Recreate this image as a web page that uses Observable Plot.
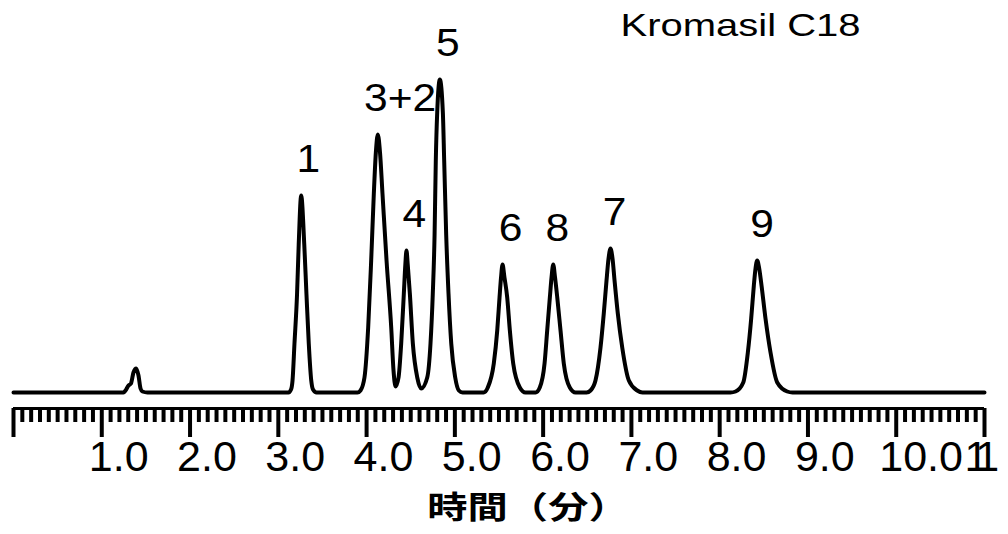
<!DOCTYPE html>
<html>
<head>
<meta charset="utf-8">
<script src="https://cdn.jsdelivr.net/npm/d3@7"></script>
<script src="https://cdn.jsdelivr.net/npm/@observablehq/plot@0.6"></script>
<style>
  body { margin: 0; background: #fff; }
  #chart svg { display: block; }
</style>
</head>
<body>
<div id="chart"></div>
<script>
// Detector trace: retention time (min) and signal (arbitrary units)
const traceTime = [
  0, 1.20, 1.246, 1.269, 1.303, 1.331, 1.359, 1.390, 1.416, 1.439, 1.461, 1.518,
  3.115, 3.144, 3.161, 3.183, 3.212, 3.231, 3.259, 3.294, 3.319, 3.345, 3.373, 3.393, 3.433,
  3.897, 3.931, 3.976, 4.018, 4.052, 4.082, 4.105, 4.127, 4.152, 4.180, 4.226, 4.279, 4.305, 4.328,
  4.362, 4.392, 4.422, 4.439, 4.452, 4.466, 4.490, 4.524, 4.574, 4.619,
  4.687, 4.724, 4.750, 4.770, 4.784, 4.800, 4.830, 4.864, 4.879, 4.902, 4.928, 4.959, 5.004, 5.045, 5.087,
  5.325, 5.373, 5.441, 5.480, 5.506, 5.523, 5.540, 5.562, 5.593, 5.623, 5.661, 5.736, 5.800,
  5.914, 5.962, 6.016, 6.046, 6.076, 6.095, 6.114, 6.135, 6.160, 6.197, 6.234, 6.302, 6.367,
  6.492, 6.537, 6.593, 6.650, 6.687, 6.718, 6.741, 6.763, 6.786, 6.809, 6.846, 6.896, 6.971, 7.066, 7.126,
  8.123, 8.180, 8.267, 8.319, 8.357, 8.387, 8.406, 8.425, 8.448, 8.474, 8.519, 8.576, 8.652, 8.765, 8.825,
  11
];
const traceSignal = [
  0, 0, 0, 2, 7, 9, 20, 24, 17, 4, 1, 0,
  0, 3, 12, 49, 98, 148, 197, 148, 98, 49, 12, 3, 0,
  0, 2, 15, 65, 132, 199, 240, 258, 240, 199, 132, 65, 22, 6,
  15, 49, 99, 128, 142, 128, 99, 49, 15, 4,
  15, 49, 99, 157, 232, 280, 313, 280, 232, 157, 99, 49, 15, 2, 0,
  0, 5, 29, 62, 95, 115, 128, 115, 95, 62, 29, 5, 0,
  0, 5, 29, 62, 95, 115, 128, 115, 95, 62, 29, 5, 0,
  0, 2, 12, 45, 79, 112, 134, 144, 134, 112, 79, 45, 12, 2, 0,
  0, 1, 10, 40, 74, 107, 124, 132, 124, 107, 74, 40, 10, 1, 0,
  0
];

// Peak identification
const peakNames = ["1", "3+2", "4", "5", "6", "8", "7", "9"];
const peakSignals = [197, 258, 142, 313, 128, 128, 144, 132];
const peakLabelTimes = [3.34, 4.38, 4.54, 4.92, 5.63, 6.16, 6.81, 8.48];

// Time axis
const majorTicks = [0, 1, 2, 3, 4, 5, 6, 7, 8, 9, 10, 11];
const majorTickLabels = ["", "1.0", "2.0", "3.0", "4.0", "5.0", "6.0", "7.0", "8.0", "9.0", "10.0", "11"];
const minorTicks = d3.range(1, 110).map(i => i / 10).filter(t => Math.abs(t - Math.round(t)) > 1e-9);

const columnName = "Kromasil C18";
const timeTitle = "時間（分）";

const trace = traceTime.map((t, i) => ({t, s: traceSignal[i]}));
const peaks = peakNames.map((name, i) => ({name, t: peakLabelTimes[i], s: peakSignals[i]}));
const labels = majorTicks.map((t, i) => ({t, label: majorTickLabels[i]})).filter(d => d.label);

const latin = "'Liberation Sans', Arial, sans-serif";

const chart = Plot.plot({
  width: 1008,
  height: 534,
  marginTop: 20,
  marginLeft: 13,
  marginRight: 24,
  marginBottom: 126,
  style: {background: "#fff", color: "#000", fontFamily: latin},
  x: {domain: [0, 11], label: null, axis: null},
  y: {domain: [0, 372], range: [392, 20], axis: null},
  marks: [
    // time axis: line, minor and major ticks, labels
    Plot.ruleY([0], {dy: 16, stroke: "#000", strokeWidth: 3}),
    Plot.axisX(minorTicks, {anchor: "bottom", tickSize: 14, strokeWidth: 4, stroke: "#000", tickFormat: () => "", label: null}),
    Plot.axisX(majorTicks, {anchor: "bottom", tickSize: 29, strokeWidth: 4, stroke: "#000", tickFormat: () => "", label: null}),
    Plot.text(labels, {
      x: "t", text: "label", frameAnchor: "bottom", textAnchor: "start",
      lineAnchor: "top", dx: -13, dy: 32, fontSize: 43, fill: "#000"
    }),
    Plot.text([timeTitle], {
      frameAnchor: "bottom", dx: 29, dy: 87, lineAnchor: "top",
      fontSize: 31, fontWeight: "bold", fill: "#000",
      fontFamily: "'Noto Sans CJK JP', 'Noto Sans CJK SC', sans-serif"
    }),
    // chromatogram
    Plot.line(trace, {x: "t", y: "s", curve: "monotone-x", stroke: "#000", strokeWidth: 4}),
    // peak numbers
    Plot.text(peaks, {
      x: "t", y: "s", text: "name", dy: -24, lineAnchor: "bottom",
      fontSize: 38, fill: "#000"
    }),
    // column name
    Plot.text([columnName], {
      frameAnchor: "top-right", textAnchor: "middle", lineAnchor: "top",
      dx: -244, dy: -7, fontSize: 32, fill: "#000"
    })
  ]
});

// horizontal stretch / spacing of selected lettering
function restyle(match, sx, extra = "", spacing = null) {
  chart.querySelectorAll("text").forEach(t => {
    if (!match(t.textContent)) return;
    const tr = t.getAttribute("transform") || "";
    const x = +t.getAttribute("x") || 0;
    const y = +t.getAttribute("y") || 0;
    t.setAttribute("transform", `${tr} ${extra} translate(${x},${y}) scale(${sx},1) translate(${-x},${-y})`);
    if (spacing != null) t.style.letterSpacing = spacing + "px";
  });
}
restyle(s => peakNames.includes(s), 1.12);
restyle(s => s === columnName, 1.25);
restyle(s => s === timeTitle, 1.3);
restyle(s => s === "10.0", 1, "translate(-4,0)");
restyle(s => s === "11", 1, "translate(-7,0)", -10);

document.getElementById("chart").append(chart);
</script>
</body>
</html>
